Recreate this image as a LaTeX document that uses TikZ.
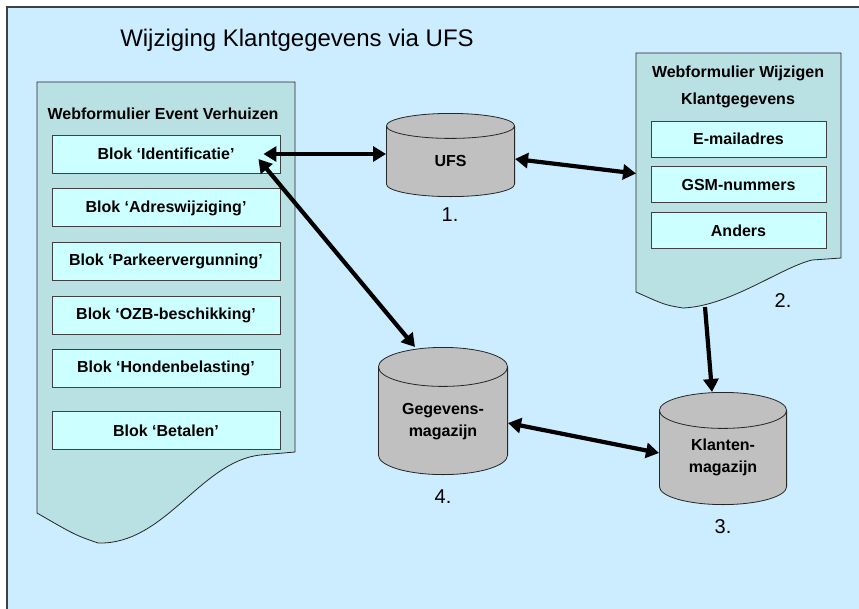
\documentclass[tikz,border=0pt]{standalone}
\usepackage{fontspec}
\setmainfont{Liberation Sans}
\usetikzlibrary{positioning,arrows.meta}
\definecolor{ufsback}{HTML}{CCECFF}
\definecolor{ufsform}{HTML}{B9E0E2}
\definecolor{ufsblock}{HTML}{CCFFFF}
\definecolor{ufsdb}{HTML}{C0C0C0}
\tikzset{
    form/.style={inner sep=0pt,outer sep=0pt},
    formline/.style={draw=black!85,fill=ufsform,line width=0.8pt},
    kop/.style={font=\fontsize{16}{27}\selectfont\bfseries,align=center},
    blok/.style={draw=black!75,fill=ufsblock,line width=0.9pt,inner sep=0pt,
        font=\fontsize{16}{19}\selectfont\bfseries},
    blokl/.style={blok,minimum width=228pt,minimum height=38pt},
    blokr/.style={blok,minimum width=175pt,minimum height=36pt},
    % #1 breedte, #2 hoogte node, #3 y-straal ellips, #4 hoogte cilinder
    db/.style n args={4}{minimum width=#1,minimum height=#2,inner sep=0pt,outer sep=0pt,
        align=center,font=\fontsize{16}{22}\selectfont\bfseries,
        path picture={
            \draw[draw=black!85,fill=ufsdb,line width=0.8pt]
                ([xshift=0.4pt,yshift=-#3-0.4pt]path picture bounding box.north west)
                -- ++(0pt,{2*#3-#4+0.8pt})
                arc[start angle=180,end angle=360,x radius=#1/2-0.4pt,y radius=#3]
                -- ++(0pt,{#4-2*#3-0.8pt})
                arc[start angle=0,end angle=180,x radius=#1/2-0.4pt,y radius=#3] -- cycle;
            \draw[black!85,line width=0.8pt]
                ([xshift=0.4pt,yshift=-#3-0.4pt]path picture bounding box.north west)
                arc[start angle=180,end angle=360,x radius=#1/2-0.4pt,y radius=#3];
        }},
    num/.style={font=\fontsize{20}{24}\selectfont},
    link/.style={line width=4.2pt},
}
\begin{document}
\begin{tikzpicture}[x=1pt,y=-1pt,>={Triangle[length=13pt,width=15pt]}]
    \useasboundingbox (0,0) rectangle (859,608);
    \fill[ufsback] (7,7) rectangle (866,615);
    \draw[line width=1.5pt,black!75] (7,615) -- (7,7) -- (866,7);

    \node[font=\fontsize{24}{28}\selectfont] (titel) at (297,40) {Wijziging Klantgegevens via UFS};

    % webformulier links
    \node[form,minimum width=258pt,minimum height=370pt,anchor=north west] (form1) at (37,82) {};
    \draw[formline] (form1.north west) -- (form1.north east) -- (form1.south east)
        -- ++(-35,3) .. controls (200,462) and (165,545) .. (98,543)
        .. controls (75,535) .. (37,513) -- cycle;
    \node[kop] (kop1) at (163,114) {Webformulier Event Verhuizen};
    \node[blokl] (ident) at (166,154) {Blok ‘Identificatie’};
    \node[blokl,below=15pt of ident] (adres) {Blok ‘Adreswijziging’};
    \node[blokl,below=15pt of adres] (parkeer) {Blok ‘Parkeervergunning’};
    \node[blokl,below=15pt of parkeer] (ozb) {Blok ‘OZB-beschikking’};
    \node[blokl,below=14pt of ozb] (honden) {Blok ‘Hondenbelasting’};
    \node[blokl,below=23pt of honden] (betalen) {Blok ‘Betalen’};

    % webformulier rechts
    \node[form,minimum width=205pt,minimum height=205pt,anchor=north west] (form2) at (636,53) {};
    \draw[formline] (form2.north west) -- (form2.north east) -- (form2.south east)
        -- ++(-29,2) .. controls (780,268) and (730,306) .. (683,308)
        .. controls (665,305) .. (636,292) -- cycle;
    \node[kop] (kop2) at (738,86.5) {Webformulier Wijzigen\\Klantgegevens};
    \node[blokr] (email) at (738.5,139) {E-mailadres};
    \node[blokr,below=9pt of email] (gsm) {GSM-nummers};
    \node[blokr,below=9pt of gsm] (anders) {Anders};
    \coordinate (form2dip) at (705,307);

    % magazijnen
    \node[db={129pt}{96pt}{12.5pt}{84pt}] (ufs) at (450.5,161) {UFS};
    \node[db={130pt}{149pt}{19.5pt}{128pt}] (gegevens) at (443,421.5) {Gegevens-\\magazijn};
    \node[db={128pt}{131pt}{18pt}{113pt}] (klanten) at (723,457.5) {Klanten-\\magazijn};

    \node[num] (n1) at (450,215) {1.};
    \node[num] (n2) at (783,301) {2.};
    \node[num] (n3) at (723,527) {3.};
    \node[num] (n4) at (443,497) {4.};

    \draw[link,<->] ([xshift=-17pt]ident.east) -- (ident.east -| ufs.west);
    \draw[link,<->] ([yshift=2pt]ufs.east) -- ([yshift=-18pt]form2.west);
    \draw[link,<->] ([xshift=-22pt,yshift=-5pt]ident.east) -- ([xshift=-28pt]gegevens.north);
    \draw[link,->] (form2dip) -- ([xshift=-11pt]klanten.north);
    \draw[link,<->] ([yshift=-1.5pt]gegevens.east) -- ([yshift=4.5pt]klanten.west);
\end{tikzpicture}
\end{document}
